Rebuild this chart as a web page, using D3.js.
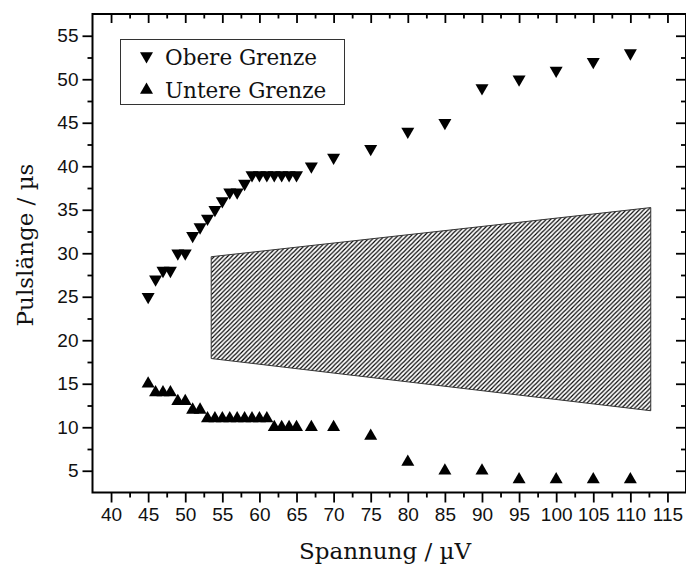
<!DOCTYPE html>
<head>
  <meta charset="utf-8">
  <script src="https://cdn.jsdelivr.net/npm/d3@7"></script>
  <style>
    body { margin: 0; background: #fff; }
    .tick text { font-family: "Liberation Sans", Arial, sans-serif; font-size: 19px; fill: #111; }
    .title { font-family: "DejaVu Serif", serif; font-size: 23px; fill: #111; }
    .legend-text { font-family: "DejaVu Serif", serif; font-size: 21.5px; fill: #111; }
  </style>
</head>

<body>
  <svg id="chart"></svg>

  <script>
    // data
    var spannungOben = [45, 46, 47, 48, 49, 50, 51, 52, 53, 54, 55, 56, 57, 58, 59, 60, 61, 62, 63, 64, 65, 67, 70, 75, 80, 85, 90, 95, 100, 105, 110];
    var obereGrenze  = [25, 27, 28, 28, 30, 30, 32, 33, 34, 35, 36, 37, 37, 38, 39, 39, 39, 39, 39, 39, 39, 40, 41, 42, 44, 45, 49, 50, 51, 52, 53];

    var spannungUnten = [45, 46, 47, 48, 49, 50, 51, 52, 53, 54, 55, 56, 57, 58, 59, 60, 61, 62, 63, 64, 65, 67, 70, 75, 80, 85, 90, 95, 100, 105, 110];
    var untereGrenze  = [15, 14, 14, 14, 13, 13, 12, 12, 11, 11, 11, 11, 11, 11, 11, 11, 11, 10, 10, 10, 10, 10, 10, 9, 6, 5, 5, 4, 4, 4, 4];

    // hatched area (corners, in data units)
    var flaecheX = [53.5, 112.75, 112.75, 53.5];
    var flaecheY = [29.6, 35.25, 11.9, 17.9];

    var xTicks = d3.range(40, 116, 5);
    var yTicks = d3.range(5, 56, 5);
    var legendNames = ["Obere Grenze", "Untere Grenze"];

    var width = 686;
    var height = 566;

    var svg = d3.select("#chart")
      .attr("width", width)
      .attr("height", height);

    var x = d3.scaleLinear().domain([37.5, 117.5]).range([92.5, 686]);
    var y = d3.scaleLinear().domain([2.5, 57.5]).range([492.5, 14]);

    var minorX = d3.range(42.5, 115, 5);
    var minorY = d3.range(7.5, 55, 5);

    // hatch pattern
    var defs = svg.append("defs");
    defs.append("pattern")
      .attr("id", "hatch")
      .attr("patternUnits", "userSpaceOnUse")
      .attr("width", 4.4)
      .attr("height", 4.4)
      .append("path")
      .attr("d", "M-1.1,1.1 l2.2,-2.2 M0,4.4 l4.4,-4.4 M3.3,5.5 l2.2,-2.2")
      .attr("stroke", "#000")
      .attr("stroke-width", 1.15);

    var poly = flaecheX.map(function(v, i) { return [x(v), y(flaecheY[i])]; });
    svg.append("path")
      .attr("d", d3.line()(poly) + "Z")
      .attr("fill", "url(#hatch)")
      .attr("stroke", "#333")
      .attr("stroke-width", 1);

    //axes: major + minor ticks on all four sides
    function styleAxis(g) {
      g.select(".domain").remove();
      g.selectAll(".tick line").attr("stroke", "#000").attr("stroke-width", 1.8);
    }

    svg.append("g").attr("transform", "translate(0," + y.range()[0] + ")")
      .call(d3.axisBottom(x).tickValues(xTicks).tickSize(10).tickPadding(5).tickFormat(d3.format("d")))
      .call(styleAxis);
    svg.append("g").attr("transform", "translate(0," + y.range()[0] + ")")
      .call(d3.axisBottom(x).tickValues(minorX).tickSize(5).tickFormat(""))
      .call(styleAxis);

    svg.append("g").attr("transform", "translate(0," + y.range()[1] + ")")
      .call(d3.axisTop(x).tickValues(xTicks).tickSize(-9).tickFormat(""))
      .call(styleAxis);
    svg.append("g").attr("transform", "translate(0," + y.range()[1] + ")")
      .call(d3.axisTop(x).tickValues(minorX).tickSize(-4.5).tickFormat(""))
      .call(styleAxis);

    svg.append("g").attr("transform", "translate(" + x.range()[0] + ",0)")
      .call(d3.axisLeft(y).tickValues(yTicks).tickSize(10).tickPadding(4).tickFormat(d3.format("d")))
      .call(styleAxis);
    svg.append("g").attr("transform", "translate(" + x.range()[0] + ",0)")
      .call(d3.axisLeft(y).tickValues(minorY).tickSize(5).tickFormat(""))
      .call(styleAxis);

    svg.append("g").attr("transform", "translate(" + x.range()[1] + ",0)")
      .call(d3.axisRight(y).tickValues(yTicks).tickSize(-10).tickFormat(""))
      .call(styleAxis);
    svg.append("g").attr("transform", "translate(" + x.range()[1] + ",0)")
      .call(d3.axisRight(y).tickValues(minorY).tickSize(-5).tickFormat(""))
      .call(styleAxis);

    // frame
    svg.append("rect")
      .attr("x", x.range()[0])
      .attr("y", y.range()[1])
      .attr("width", x.range()[1] - x.range()[0])
      .attr("height", y.range()[0] - y.range()[1])
      .attr("fill", "none")
      .attr("stroke", "#000")
      .attr("stroke-width", 2);

    // triangles, centred on their centroid
    var triUp = "M0,-7.5 L6.5,3.8 L-6.5,3.8 Z";
    var triDown = "M0,7.5 L6.5,-3.8 L-6.5,-3.8 Z";

    svg.append("g").selectAll("path")
      .data(spannungOben).enter()
      .append("path")
      .attr("d", triDown)
      .attr("transform", function(d, i) { return "translate(" + x(d) + "," + y(obereGrenze[i]) + ")"; })
      .attr("fill", "#000");

    svg.append("g").selectAll("path")
      .data(spannungUnten).enter()
      .append("path")
      .attr("d", triUp)
      .attr("transform", function(d, i) { return "translate(" + x(d) + "," + y(untereGrenze[i]) + ")"; })
      .attr("fill", "#000");

    // axis titles
    svg.append("text")
      .attr("class", "title")
      .attr("x", 385)
      .attr("y", 559)
      .attr("text-anchor", "middle")
      .text("Spannung / \u00b5V");

    svg.append("text")
      .attr("class", "title")
      .attr("transform", "translate(33,245) rotate(-90)")
      .attr("text-anchor", "middle")
      .text("Pulsl\u00e4nge / \u00b5s");

    // legend
    var legend = svg.append("g");
    legend.append("rect")
      .attr("x", 120.5)
      .attr("y", 39.5)
      .attr("width", 224)
      .attr("height", 65)
      .attr("fill", "#fff")
      .attr("stroke", "#333")
      .attr("stroke-width", 1);

    var rows = legend.selectAll("g.row")
      .data(legendNames).enter()
      .append("g")
      .attr("class", "row")
      .attr("transform", function(d, i) { return "translate(0," + (i * 33) + ")"; });

    rows.append("path")
      .attr("d", function(d, i) { return i == 0 ? triDown : triUp; })
      .attr("transform", function(d, i) { return "translate(146.5," + (i == 0 ? 56 : 57) + ")"; })
      .attr("fill", "#000");

    rows.append("text")
      .attr("class", "legend-text")
      .attr("x", 165)
      .attr("y", 64.5)
      .text(function(d) { return d; });
  </script>
</body>
